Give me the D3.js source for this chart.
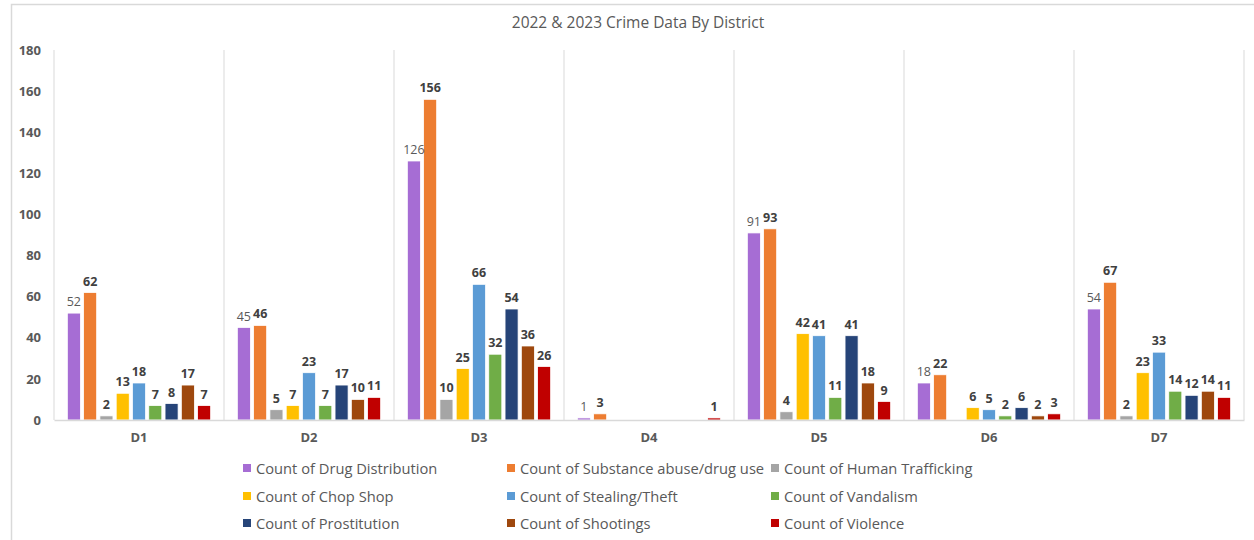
<!DOCTYPE html>
<html>
<head>
<meta charset="utf-8">
<script src="https://cdn.jsdelivr.net/npm/d3@7"></script>
<style>
  body { margin: 0; background: #fff; }
  text { font-family: "Open Sans", "Liberation Sans", sans-serif; }
</style>
</head>
<body>
<div id="canvas"></div>
<script>
const districts = ["D1", "D2", "D3", "D4", "D5", "D6", "D7"];
const seriesNames = [
  "Count of Drug Distribution", "Count of Substance abuse/drug use", "Count of Human Trafficking",
  "Count of Chop Shop", "Count of Stealing/Theft", "Count of Vandalism",
  "Count of Prostitution", "Count of Shootings", "Count of Violence"
];
// one array per series, in district order (null = no value)
const drugDistribution = [52, 45, 126, 1, 91, 18, 54];
const substanceAbuse   = [62, 46, 156, 3, 93, 22, 67];
const humanTrafficking = [2, 5, 10, null, 4, null, 2];
const chopShop         = [13, 7, 25, null, 42, 6, 23];
const stealingTheft    = [18, 23, 66, null, 41, 5, 33];
const vandalism        = [7, 7, 32, null, 11, 2, 14];
const prostitution     = [8, 17, 54, null, 41, 6, 12];
const shootings        = [17, 10, 36, null, 18, 2, 14];
const violence         = [7, 11, 26, 1, 9, 3, 11];
const yTicks = [0, 20, 40, 60, 80, 100, 120, 140, 160, 180];

const seriesValues = [drugDistribution, substanceAbuse, humanTrafficking, chopShop,
  stealingTheft, vandalism, prostitution, shootings, violence];
const colors = ["#A66DD4", "#ED7D31", "#A5A5A5", "#FFC000", "#5B9BD5",
  "#70AD47", "#264478", "#9E480E", "#C00000"];

const width = 1254, height = 540;
const margin = { top: 50, left: 54, right: 10, bottom: 120 };
const iwidth = 1190, iheight = 370;

const svg = d3.select("#canvas").append("svg")
  .attr("width", width).attr("height", height);

// chart border
svg.append("rect")
  .attr("x", 11.5).attr("y", 4.5).attr("width", 1260).attr("height", 560)
  .attr("fill", "none").attr("stroke", "#d9d9d9").attr("stroke-width", 1.5);

svg.append("text")
  .attr("x", 638).attr("y", 28)
  .attr("text-anchor", "middle")
  .style("font-size", "15.5px").style("fill", "#595959")
  .text("2022 & 2023 Crime Data By District");

const g = svg.append("g").attr("transform", `translate(${margin.left},${margin.top})`);

const y = d3.scaleLinear().domain([0, 180]).range([iheight, 0]);
const x0 = d3.scaleBand().domain(districts).range([0, iwidth]).padding(0);
const x1 = d3.scaleBand().domain(d3.range(seriesNames.length))
  .range([0, x0.bandwidth()]).paddingInner(0.2).paddingOuter(0.82);

// vertical category gridlines
g.append("g").selectAll("line")
  .data(d3.range(districts.length + 1))
  .join("line")
  .attr("x1", i => i * x0.step()).attr("x2", i => i * x0.step())
  .attr("y1", 0).attr("y2", iheight)
  .attr("stroke", "#d9d9d9").attr("stroke-width", 1);

// y axis labels
const yAxis = g.append("g")
  .call(d3.axisLeft(y).tickValues(yTicks).tickSize(0).tickPadding(13));
yAxis.select(".domain").remove();
yAxis.selectAll("text")
  .style("font-size", "13px").style("font-weight", "bold")
  .style("fill", "#595959").style("font-family", "'Open Sans', sans-serif");

// bars
const rows = [];
seriesValues.forEach((vals, s) => {
  vals.forEach((v, d) => {
    if (v !== null) rows.push({ s: s, district: districts[d], value: v });
  });
});

g.selectAll("rect.bar").data(rows).join("rect")
  .attr("class", "bar")
  .attr("x", d => x0(d.district) + x1(d.s))
  .attr("y", d => y(d.value))
  .attr("width", x1.bandwidth())
  .attr("height", d => iheight - y(d.value))
  .attr("fill", d => colors[d.s])
  .attr("stroke", "#fff").attr("stroke-width", 0.75);

g.selectAll("text.lbl").data(rows).join("text")
  .attr("class", "lbl")
  .attr("x", d => x0(d.district) + x1(d.s) + x1.bandwidth() / 2)
  .attr("y", d => y(d.value) - 7)
  .attr("text-anchor", "middle")
  .style("font-size", "12.5px")
  .style("font-weight", d => d.s === 0 ? "normal" : "bold")
  .style("fill", d => d.s === 0 ? "#595959" : "#404040")
  .text(d => d.value);

// x axis
const xAxis = g.append("g")
  .attr("transform", `translate(0,${iheight})`)
  .call(d3.axisBottom(x0).tickSize(0).tickPadding(13));
xAxis.select(".domain").attr("stroke", "#d9d9d9").attr("stroke-width", 1.5);
xAxis.selectAll("text")
  .style("font-size", "13px").style("font-weight", "bold")
  .style("fill", "#595959").style("font-family", "'Open Sans', sans-serif");

// legend
const legendCols = [243, 507, 771];
const legendRows = [468, 496, 523];
const legend = svg.append("g").selectAll("g").data(seriesNames).join("g")
  .attr("transform", (d, i) => `translate(${legendCols[i % 3]},${legendRows[Math.floor(i / 3)]})`);
legend.append("rect")
  .attr("x", 0).attr("y", -4).attr("width", 8).attr("height", 8)
  .attr("fill", (d, i) => colors[i]);
legend.append("text")
  .attr("x", 13).attr("y", 5.5)
  .style("font-size", "14.7px").style("fill", "#595959")
  .text(d => d);
</script>
</body>
</html>
